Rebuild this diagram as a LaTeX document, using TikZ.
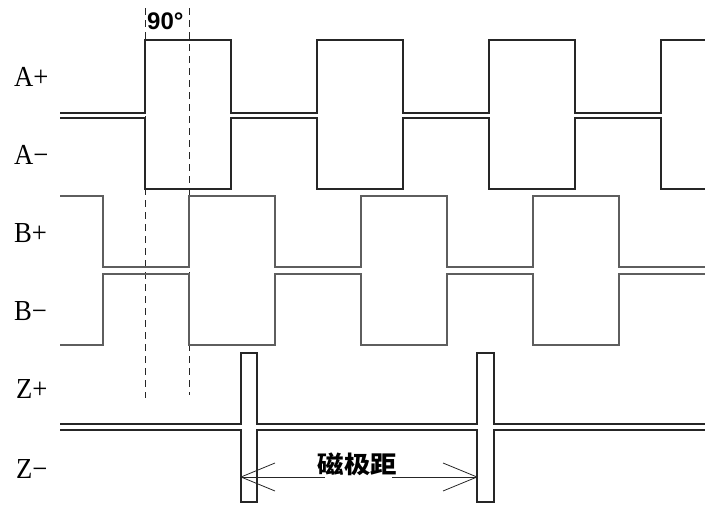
\documentclass[tikz,border=0pt]{standalone}
\usepackage{fontspec}
\setmainfont{Liberation Serif}
\newfontfamily\sansb{Liberation Sans}
\newfontfamily\cjk{Noto Sans CJK SC}
\definecolor{dk}{HTML}{262626}
\definecolor{gy}{HTML}{5E5E5E}
\begin{document}
\begin{tikzpicture}[x=1pt,y=-1pt,
  wave/.style={line width=1.15pt, draw=dk, line join=miter},
  waveb/.style={line width=1.15pt, draw=gy, line join=miter},
  guide/.style={line width=0.9pt, draw=dk, dash pattern=on 7pt off 5pt},
  arr/.style={line width=0.8pt, draw=dk},
  lab/.style={font=\fontsize{29}{29}\selectfont, anchor=base west, inner sep=0pt, xscale=0.92},
  deg/.style={font=\sansb\bfseries\fontsize{24}{24}\selectfont, anchor=base west, inner sep=0pt},
  cjklab/.style={font=\cjk\bfseries\fontsize{24}{24}\selectfont, xscale=1.1, anchor=center, inner sep=0pt}]
\useasboundingbox (0,0) rectangle (707,506);
% labels
\node[lab] (lap) at (14,86) {A+};
\node[lab] (lam) at (14,164) {A−};
\node[lab] (lbp) at (14,242) {B+};
\node[lab] (lbm) at (14,320) {B−};
\node[lab] (lzp) at (16,398) {Z+};
\node[lab] (lzm) at (16,478) {Z−};
% guides
\draw[guide] (145,8) -- (145,398);
\draw[guide] (189,8) -- (189,395);
\node[deg] (ninety) at (147,29) {90°};
% A
\draw[wave] (60,113) -- (145,113) -- (145,40) -- (231,40) -- (231,113) -- (317,113) -- (317,40) -- (403,40) -- (403,113) -- (489,113) -- (489,40) -- (575,40) -- (575,113) -- (661,113) -- (661,40) -- (705,40);
\draw[wave] (60,118) -- (145,118) -- (145,189) -- (231,189) -- (231,118) -- (317,118) -- (317,189) -- (403,189) -- (403,118) -- (489,118) -- (489,189) -- (575,189) -- (575,118) -- (661,118) -- (661,189) -- (705,189);
% B
\draw[waveb] (60,196) -- (103,196) -- (103,267) -- (189,267) -- (189,196) -- (275,196) -- (275,267) -- (361,267) -- (361,196) -- (447,196) -- (447,267) -- (533,267) -- (533,196) -- (619,196) -- (619,267) -- (705,267);
\draw[waveb] (60,345) -- (103,345) -- (103,274) -- (189,274) -- (189,345) -- (275,345) -- (275,274) -- (361,274) -- (361,345) -- (447,345) -- (447,274) -- (533,274) -- (533,345) -- (619,345) -- (619,274) -- (705,274);
% Z
\draw[wave] (60,424) -- (241,424) -- (241,353) -- (257,353) -- (257,424) -- (477,424) -- (477,353) -- (494,353) -- (494,424) -- (705,424);
\draw[wave] (60,430) -- (241,430) -- (241,502) -- (257,502) -- (257,430) -- (477,430) -- (477,502) -- (494,502) -- (494,430) -- (705,430);
% pole pitch arrow
\coordinate (zl) at (241,477);
\coordinate (zr) at (477,477);
\coordinate (gl) at (325,477);
\coordinate (gr) at (392,477);
\node[cjklab] (pitch) at (357.5,464) {磁极距};
\draw[arr] (zl) -- (gl);
\draw[arr] (gr) -- (zr);
\draw[arr] (zl) -- ++(34,-14);
\draw[arr] (zl) -- ++(34,14);
\draw[arr] (zr) -- ++(-34,-14);
\draw[arr] (zr) -- ++(-34,14);
\end{tikzpicture}
\end{document}
